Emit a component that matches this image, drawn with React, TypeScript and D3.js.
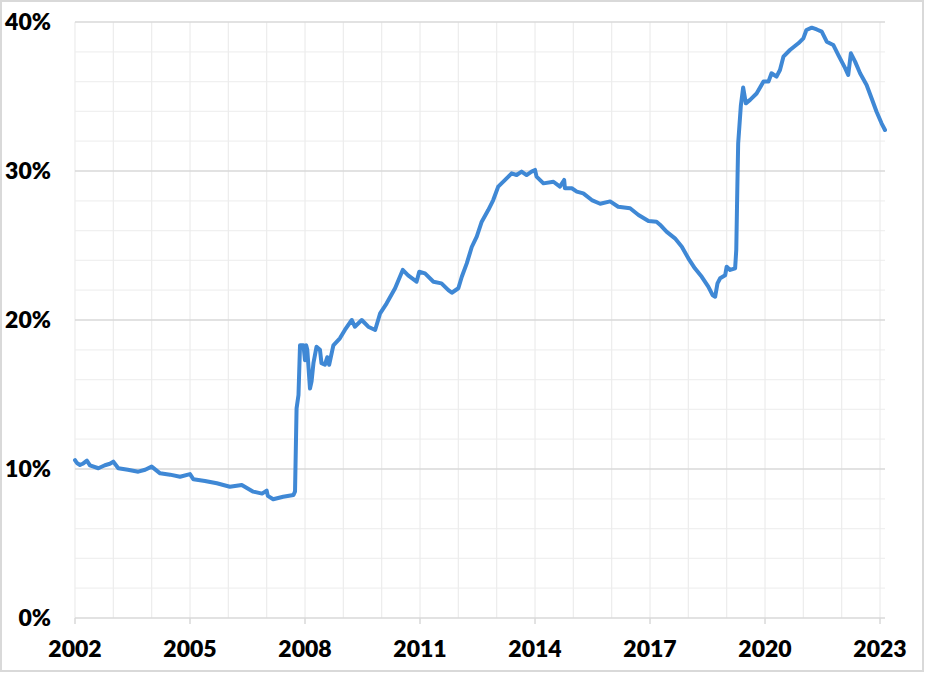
import * as React from "react";
import * as d3 from "d3";

// decimal year of each reading
const dates: number[] = [
  2002.0, 2002.05, 2002.13, 2002.2, 2002.31, 2002.39, 2002.61, 2002.78, 2002.91,
  2003.0, 2003.13, 2003.38, 2003.65, 2003.83, 2004.0, 2004.22, 2004.48, 2004.74,
  2005.0, 2005.09, 2005.39, 2005.7, 2006.04, 2006.35, 2006.65, 2006.88, 2007.0,
  2007.03, 2007.17, 2007.43, 2007.7, 2007.74, 2007.78, 2007.83, 2007.87, 2007.96,
  2008.0, 2008.03, 2008.06, 2008.13, 2008.17, 2008.22, 2008.3, 2008.39, 2008.43,
  2008.52, 2008.58, 2008.63, 2008.74, 2008.91, 2009.04, 2009.22, 2009.3, 2009.48,
  2009.65, 2009.83, 2009.96, 2010.13, 2010.35, 2010.55, 2010.69, 2010.91, 2010.98,
  2011.13, 2011.35, 2011.56, 2011.74, 2011.83, 2012.0, 2012.09, 2012.22, 2012.35,
  2012.48, 2012.61, 2012.78, 2012.91, 2013.04, 2013.22, 2013.39, 2013.52, 2013.65,
  2013.78, 2013.91, 2014.0, 2014.04, 2014.22, 2014.48, 2014.65, 2014.76, 2014.78,
  2014.96, 2015.09, 2015.26, 2015.48, 2015.7, 2015.96, 2016.17, 2016.48, 2016.7,
  2016.96, 2017.17, 2017.26, 2017.43, 2017.65, 2017.83, 2018.0, 2018.17, 2018.35,
  2018.52, 2018.63, 2018.7, 2018.76, 2018.83, 2018.96, 2019.0, 2019.09, 2019.22,
  2019.25, 2019.28, 2019.3, 2019.37, 2019.43, 2019.5, 2019.61, 2019.78, 2019.96,
  2020.09, 2020.17, 2020.3, 2020.39, 2020.48, 2020.65, 2020.87, 2021.0, 2021.08,
  2021.22, 2021.35, 2021.48, 2021.61, 2021.78, 2021.91, 2022.09, 2022.17, 2022.24,
  2022.35, 2022.48, 2022.65, 2022.78, 2022.91, 2023.04, 2023.13,
];

// share in percent
const values: number[] = [
  10.6, 10.4, 10.27, 10.35, 10.56, 10.25, 10.05, 10.25, 10.35,
  10.49, 10.05, 9.95, 9.82, 9.95, 10.16, 9.71, 9.62, 9.48,
  9.66, 9.31, 9.2, 9.04, 8.81, 8.93, 8.48, 8.35, 8.55,
  8.2, 7.97, 8.14, 8.26, 8.5, 14.07, 14.97, 18.3, 18.3,
  17.3, 18.3, 18.0, 15.4, 15.86, 17.1, 18.2, 18.0, 17.1,
  17.0, 17.5, 17.0, 18.3, 18.77, 19.33, 20.0, 19.55, 20.0,
  19.55, 19.33, 20.45, 21.12, 22.13, 23.36, 23.0, 22.57, 23.24,
  23.13, 22.57, 22.46, 22.0, 21.83, 22.13, 22.9, 23.8, 24.9,
  25.6, 26.6, 27.38, 28.05, 28.95, 29.4, 29.84, 29.73, 29.96,
  29.73, 29.96, 30.07, 29.62, 29.17, 29.28, 28.95, 29.4, 28.84,
  28.84, 28.62, 28.5, 28.05, 27.8, 27.96, 27.6, 27.5, 27.05,
  26.64, 26.6, 26.4, 25.93, 25.48, 24.92, 24.14, 23.47, 22.9,
  22.24, 21.68, 21.56, 22.46, 22.8, 23.0, 23.58, 23.36, 23.47,
  24.7, 29.2, 31.86, 34.4, 35.6, 34.54, 34.77, 35.2, 36.0,
  36.0, 36.56, 36.33, 36.78, 37.67, 38.12, 38.57, 38.9, 39.46,
  39.62, 39.5, 39.35, 38.68, 38.46, 37.79, 36.9, 36.44, 37.9,
  37.34, 36.56, 35.77, 34.88, 33.98, 33.2, 32.75,
];

const yTicks: number[] = [0, 10, 20, 30, 40];
const xTickYears: number[] = [2002, 2005, 2008, 2011, 2014, 2017, 2020, 2023];

const W = 925;
const H = 673;
const left = 75;
const right = 885;
const top = 22;
const bottom = 618;

export default function App() {
  const x = d3.scaleLinear().domain([2002, 2023.13]).range([left, right]);
  const y = d3.scaleLinear().domain([0, 40]).range([bottom, top]);

  const pts: [number, number][] = dates.map((d, i) => [d, values[i]]);
  const line = d3
    .line<[number, number]>()
    .x(d => x(d[0]))
    .y(d => y(d[1]))
    .curve(d3.curveLinear);

  const minor = d3.range(0, 41, 2).filter(v => v % 10 !== 0);
  const years = d3.range(2003, 2024);
  const font = "Lato, 'Open Sans', sans-serif";

  return (
    <svg
      width={W}
      height={H}
      style={{ position: "absolute", left: 0, top: 0, display: "block", background: "#fff" }}
    >
      <rect x={1} y={1} width={W - 3} height={H - 3} fill="#fff" stroke="#d9d9d9" strokeWidth={2} />

      {/* minor horizontal grid */}
      {minor.map(v => (
        <line key={"m" + v} x1={left} x2={right} y1={y(v)} y2={y(v)} stroke="#f0f0f0" strokeWidth={1.2} />
      ))}
      {/* yearly vertical grid */}
      {years.map(yr => (
        <line key={"v" + yr} x1={x(yr)} x2={x(yr)} y1={top} y2={bottom} stroke="#ececec" strokeWidth={1.2} />
      ))}
      <line x1={left} x2={left} y1={top} y2={bottom} stroke="#ececec" strokeWidth={1.2} />
      {/* major horizontal grid */}
      {yTicks.map(v => (
        <line key={"M" + v} x1={left} x2={right} y1={y(v)} y2={y(v)} stroke="#d9d9d9" strokeWidth={1.5} />
      ))}
      {/* x ticks */}
      {xTickYears.map(yr => (
        <line key={"t" + yr} x1={x(yr)} x2={x(yr)} y1={bottom} y2={bottom + 6} stroke="#d9d9d9" strokeWidth={1.5} />
      ))}

      <path d={line(pts) || ""} fill="none" stroke="#3f88d5" strokeWidth={4} strokeLinejoin="round" strokeLinecap="round" />

      {yTicks.map(v => (
        <text
          key={"yl" + v}
          x={51}
          y={y(v)}
          dy="0.36em"
          textAnchor="end"
          fontFamily={font}
          fontWeight={800}
          fontSize={23}
          fill="#000"
        >
          {v + "%"}
        </text>
      ))}
      {xTickYears.map(yr => (
        <text
          key={"xl" + yr}
          x={x(yr)}
          y={657}
          textAnchor="middle"
          fontFamily={font}
          fontWeight={800}
          fontSize={23}
          fill="#000"
        >
          {yr}
        </text>
      ))}
    </svg>
  );
}
